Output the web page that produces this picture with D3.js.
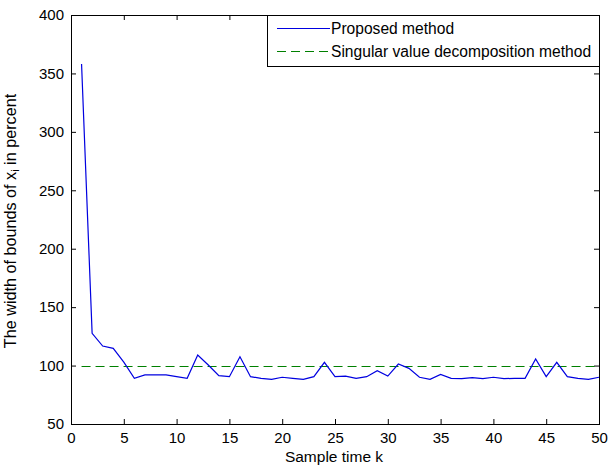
<!DOCTYPE html>
<html>
<head>
<meta charset="utf-8">
<script src="https://cdn.jsdelivr.net/npm/d3@7"></script>
<style>
  body { margin: 0; background: #fff; }
  svg text { font-family: "Liberation Sans", Arial, sans-serif; fill: #000; }
</style>
</head>
<body>
<svg id="chart" width="608" height="467"></svg>
<script>
// sample times and values
var sampleK = d3.range(1, 51);
var proposed = [358, 127.6, 116.7, 114.7, 103, 89.1, 92, 92, 92, 90.5,
                89.1, 109, 100.5, 91.4, 90.5, 107.6, 90.5, 89.1, 88.2, 90,
                89.1, 88.2, 90.5, 102.8, 90.5, 91, 89, 90.5, 95.6, 91,
                101.3, 97.6, 90, 88.2, 92.5, 89.1, 88.8, 89.7, 88.8, 90,
                88.8, 89.1, 89.1, 105.6, 90.5, 102.8, 90.5, 89.1, 88.2, 90];
var svdValue = 100;
var xTicks = [0, 5, 10, 15, 20, 25, 30, 35, 40, 45, 50];
var yTicks = [50, 100, 150, 200, 250, 300, 350, 400];
var legendLabels = ["Proposed method", "Singular value decomposition method"];

var svg = d3.select("#chart");
// note: "top" is taken by window.top, so plot edges get their own names
var pL = 71, pR = 599, pT = 15, pB = 424;

var x = d3.scaleLinear().domain([0, 50]).range([pL, pR]);
var y = d3.scaleLinear().domain([50, 400]).range([pB, pT]);

// axes, ticks pointing inward like matlab
var tickLen = 5;
function noDomain(g) { g.select(".domain").remove(); }
svg.append("g")
  .attr("transform", "translate(0," + pB + ")")
  .call(d3.axisBottom(x).tickValues(xTicks).tickSize(-tickLen).tickPadding(8))
  .call(noDomain);
svg.append("g")
  .attr("transform", "translate(0," + pT + ")")
  .call(d3.axisTop(x).tickValues(xTicks).tickSize(-tickLen).tickFormat(""))
  .call(noDomain);
svg.append("g")
  .attr("transform", "translate(" + pL + ",0)")
  .call(d3.axisLeft(y).tickValues(yTicks).tickSize(-tickLen).tickPadding(7))
  .call(noDomain);
svg.append("g")
  .attr("transform", "translate(" + pR + ",0)")
  .call(d3.axisRight(y).tickValues(yTicks).tickSize(-tickLen).tickFormat(""))
  .call(noDomain);

svg.selectAll(".tick line").attr("stroke", "#000");
svg.selectAll(".tick text").style("font-size", "15px");

svg.append("rect")
  .attr("x", pL + 0.5).attr("y", pT + 0.5)
  .attr("width", pR - pL).attr("height", pB - pT)
  .attr("fill", "none").attr("stroke", "#000");

// svd reference line (snapped to a pixel row so it stays crisp)
var ySvd = Math.round(y(svdValue)) + 0.5;
svg.append("line")
  .attr("x1", x(1)).attr("x2", x(50))
  .attr("y1", ySvd).attr("y2", ySvd)
  .attr("stroke", "#008000")
  .attr("stroke-dasharray", "9,5");

// proposed method
var line = d3.line()
  .x(function (d, i) { return x(sampleK[i]); })
  .y(function (d) { return y(d); });
svg.append("path")
  .datum(proposed)
  .attr("d", line)
  .attr("fill", "none")
  .attr("stroke", "#0000e0")
  .attr("stroke-width", 1.2);

// legend
var lg = svg.append("g");
lg.append("rect")
  .attr("x", 267.5).attr("y", pT + 0.5)
  .attr("width", pR - 267).attr("height", 51)
  .attr("fill", "#fff").attr("stroke", "#000");
lg.append("line")
  .attr("x1", 277).attr("x2", 330).attr("y1", 28.5).attr("y2", 28.5)
  .attr("stroke", "#0000e0").attr("stroke-width", 1.2);
lg.append("line")
  .attr("x1", 277).attr("x2", 330).attr("y1", 51.5).attr("y2", 51.5)
  .attr("stroke", "#008000").attr("stroke-dasharray", "9,5");
lg.selectAll("text.lab")
  .data(legendLabels).enter()
  .append("text")
  .attr("class", "lab")
  .attr("x", 331)
  .attr("y", function (d, i) { return 28.5 + i * 23; })
  .attr("dy", "0.35em")
  .style("font-size", "15.6px")
  .text(function (d) { return d; });

// axis labels
svg.append("text")
  .attr("x", (pL + pR) / 2 - 1).attr("y", 462)
  .attr("text-anchor", "middle")
  .style("font-size", "15.5px")
  .text("Sample time k");

var yl = svg.append("text")
  .attr("transform", "translate(16,221) rotate(-90)")
  .attr("text-anchor", "middle")
  .style("font-size", "16.2px");
yl.append("tspan").text("The width of bounds  of x");
yl.append("tspan").attr("dy", 3).style("font-size", "11px").text("i");
yl.append("tspan").attr("dy", -3).text(" in percent");
</script>
</body>
</html>
